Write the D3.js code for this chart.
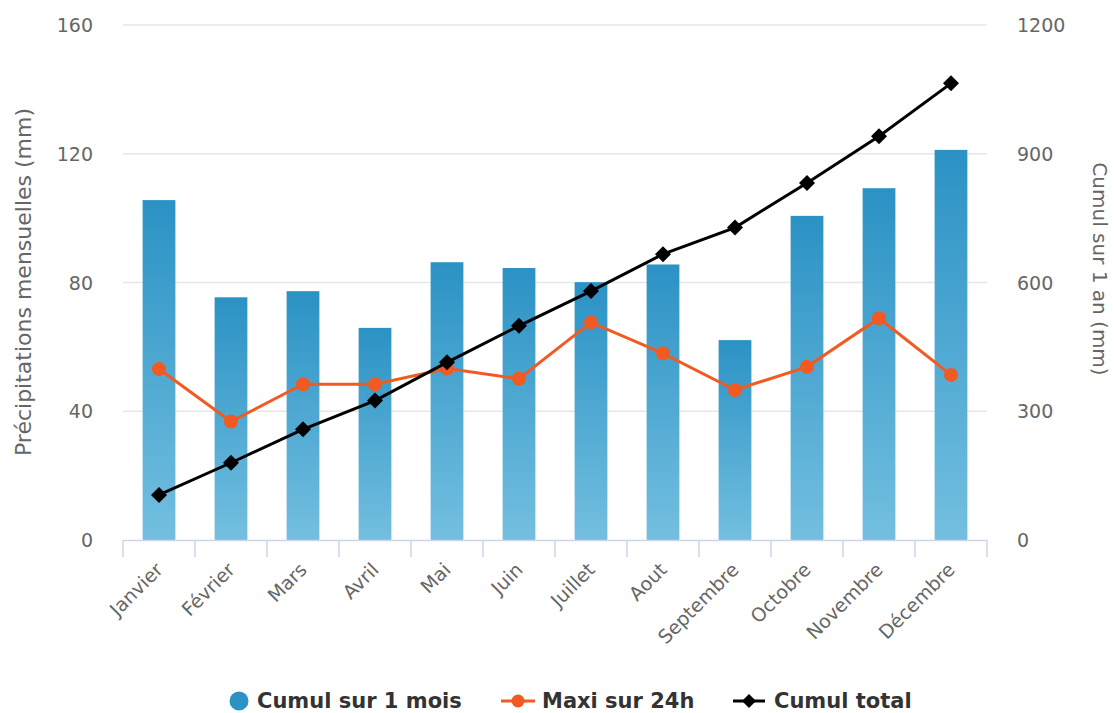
<!DOCTYPE html>
<html>
<head>
<meta charset="utf-8">
<script src="https://cdn.jsdelivr.net/npm/d3@7"></script>
<style>
  body { margin: 0; background: #fff; }
  svg { display: block; font-family: "DejaVu Sans", sans-serif; }
</style>
</head>
<body>
<svg width="1114" height="713"></svg>
<script>
// data
const months = ["Janvier", "Février", "Mars", "Avril", "Mai", "Juin", "Juillet", "Aout", "Septembre", "Octobre", "Novembre", "Décembre"]
const cumulMois = [105.6, 75.4, 77.3, 65.9, 86.3, 84.5, 80.1, 85.6, 62.1, 100.7, 109.3, 121.2]
const maxi24h = [53.1, 36.8, 48.4, 48.4, 53.3, 50.1, 67.6, 58.0, 46.6, 53.8, 68.9, 51.3]
const cumulTotal = [105, 180, 258, 325, 414, 499, 580, 666, 728, 832, 941, 1064]
const leftTicks = [0, 40, 80, 120, 160]
const rightTicks = [0, 300, 600, 900, 1200]

const width = 1114
const height = 713
const margin = { top: 25, right: 127, bottom: 173, left: 123 }
const svg = d3.select('svg')

const x = d3.scaleBand().domain(months).range([margin.left, width - margin.right]).padding(0)
const yL = d3.scaleLinear().domain([0, 160]).range([height - margin.bottom, margin.top])
const yR = d3.scaleLinear().domain([0, 1200]).range([height - margin.bottom, margin.top])
const cx = d => x(d) + x.bandwidth() / 2

// bar gradient
const grad = svg.append('defs').append('linearGradient')
    .attr('id', 'barGrad').attr('x1', 0).attr('y1', 0).attr('x2', 0).attr('y2', 1)
grad.append('stop').attr('offset', '0%').attr('stop-color', '#2b92c4')
grad.append('stop').attr('offset', '100%').attr('stop-color', '#73bfe0')

// grid lines
svg.append('g').selectAll('line').data(leftTicks.slice(1)).enter().append('line')
    .attr('x1', margin.left).attr('x2', width - margin.right)
    .attr('y1', d => yL(d)).attr('y2', d => yL(d))
    .attr('stroke', '#e6e6e6').attr('stroke-width', 1.5)

// left axis labels
svg.append('g').selectAll('text').data(leftTicks).enter().append('text')
    .attr('x', 93).attr('y', d => yL(d) + 7)
    .attr('text-anchor', 'end').attr('font-size', 19).attr('fill', '#666')
    .text(d => d)

// right axis labels
svg.append('g').selectAll('text').data(rightTicks).enter().append('text')
    .attr('x', 1017).attr('y', d => yR(d) + 7)
    .attr('text-anchor', 'start').attr('font-size', 19).attr('fill', '#666')
    .text(d => d)

// axis titles
svg.append('text')
    .attr('transform', 'translate(31,' + 282 + ') rotate(-90)')
    .attr('text-anchor', 'middle').attr('font-size', 22).attr('fill', '#666')
    .text('Précipitations mensuelles (mm)')
svg.append('text')
    .attr('transform', 'translate(1093,' + 269 + ') rotate(90)')
    .attr('text-anchor', 'middle').attr('font-size', 20).attr('fill', '#666')
    .text('Cumul sur 1 an (mm)')

// bars
const barW = x.bandwidth() * 0.455
svg.append('g').selectAll('rect').data(months).enter().append('rect')
    .attr('x', d => cx(d) - barW / 2)
    .attr('y', (d, i) => yL(cumulMois[i]))
    .attr('width', barW)
    .attr('height', (d, i) => yL(0) - yL(cumulMois[i]))
    .attr('fill', 'url(#barGrad)')

// x axis line and ticks
const xAxis = svg.append('g')
xAxis.append('line')
    .attr('x1', margin.left).attr('x2', width - margin.right)
    .attr('y1', yL(0) + 0.5).attr('y2', yL(0) + 0.5)
    .attr('stroke', '#ccd6eb').attr('stroke-width', 1.5)
xAxis.selectAll('line.tick').data(months.concat(['end'])).enter().append('line')
    .attr('class', 'tick')
    .attr('x1', (d, i) => i < months.length ? x(d) : width - margin.right)
    .attr('x2', (d, i) => i < months.length ? x(d) : width - margin.right)
    .attr('y1', yL(0)).attr('y2', yL(0) + 17)
    .attr('stroke', '#ccd6eb').attr('stroke-width', 1.5)
xAxis.selectAll('text').data(months).enter().append('text')
    .attr('transform', d => 'translate(' + (cx(d) + 5) + ',' + 571 + ') rotate(-45)')
    .attr('text-anchor', 'end').attr('font-size', 19).attr('fill', '#666')
    .text(d => d)

// maxi sur 24h line
const orange = '#f15a22'
const lineL = d3.line().x((d, i) => cx(months[i])).y(d => yL(d))
svg.append('path').datum(maxi24h)
    .attr('d', lineL).attr('fill', 'none')
    .attr('stroke', orange).attr('stroke-width', 3)
svg.append('g').selectAll('circle').data(maxi24h).enter().append('circle')
    .attr('cx', (d, i) => cx(months[i])).attr('cy', d => yL(d))
    .attr('r', 7).attr('fill', orange)

// cumul total line
const lineR = d3.line().x((d, i) => cx(months[i])).y(d => yR(d))
svg.append('path').datum(cumulTotal)
    .attr('d', lineR).attr('fill', 'none')
    .attr('stroke', '#000').attr('stroke-width', 3)
const diamond = s => 'M0,' + (-s) + 'L' + s + ',0L0,' + s + 'L' + (-s) + ',0Z'
svg.append('g').selectAll('path').data(cumulTotal).enter().append('path')
    .attr('transform', (d, i) => 'translate(' + cx(months[i]) + ',' + yR(d) + ')')
    .attr('d', diamond(8)).attr('fill', '#000')

// legend
const leg = svg.append('g').attr('font-size', 21).attr('font-weight', 'bold').attr('fill', '#333')
leg.append('circle').attr('cx', 239).attr('cy', 701).attr('r', 9.5).attr('fill', '#2b92c4')
leg.append('text').attr('x', 257).attr('y', 708).text('Cumul sur 1 mois')
leg.append('line').attr('x1', 501).attr('x2', 535).attr('y1', 701).attr('y2', 701)
    .attr('stroke', orange).attr('stroke-width', 3)
leg.append('circle').attr('cx', 518).attr('cy', 701).attr('r', 6.5).attr('fill', orange)
leg.append('text').attr('x', 542).attr('y', 708).text('Maxi sur 24h')
leg.append('line').attr('x1', 733).attr('x2', 765).attr('y1', 701).attr('y2', 701)
    .attr('stroke', '#000').attr('stroke-width', 3)
leg.append('path').attr('transform', 'translate(749,701)').attr('d', diamond(7)).attr('fill', '#000')
leg.append('text').attr('x', 774).attr('y', 708).text('Cumul total')
</script>
</body>
</html>
